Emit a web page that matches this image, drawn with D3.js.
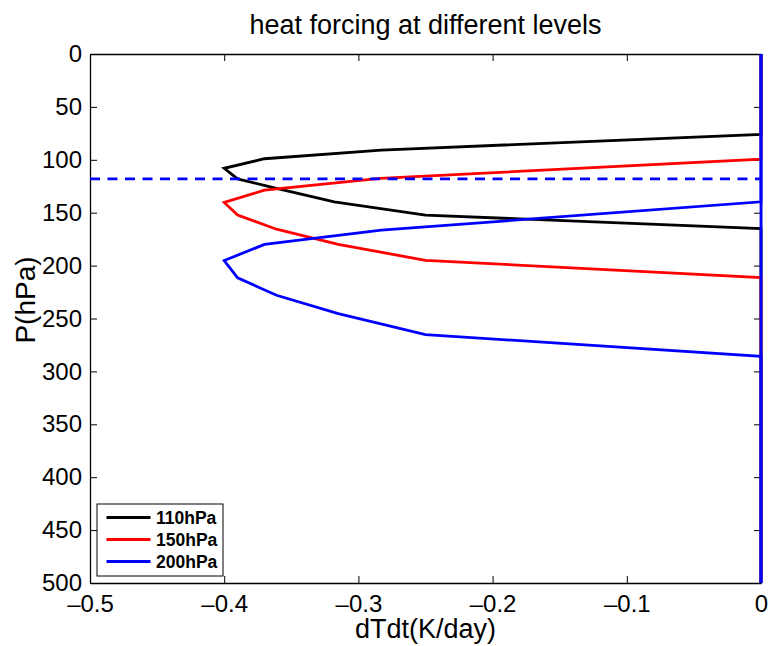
<!DOCTYPE html>
<html>
<head>
<meta charset="utf-8">
<script src="https://cdn.jsdelivr.net/npm/d3@7"></script>
<style>
    body { margin: 0; background: #fff; }
    text { font-family: "Liberation Sans", Arial, sans-serif; }
</style>
</head>
<body>
<div id="chart"></div>
<script>
// heating profiles (pressure in hPa, dTdt in K/day)
const pres110 = [0, 76, 90.8, 99, 108, 118, 127, 139.7, 152.3, 165, 500];
const val110 = [0, 0, -0.283, -0.370, -0.400, -0.390, -0.361, -0.318, -0.250, 0, 0];
const pres150 = [0, 99.3, 117.6, 128.7, 140.3, 152.3, 165.6, 180, 195, 211.3, 500];
const val150 = [0, 0, -0.284, -0.370, -0.400, -0.390, -0.361, -0.315, -0.250, 0, 0];
const pres200 = [0, 139.7, 166.5, 180, 195.2, 211.6, 228, 245.3, 265.2, 285.7, 500];
const val200 = [0, 0, -0.283, -0.370, -0.400, -0.390, -0.361, -0.315, -0.250, 0, 0];

const seriesNames = ["110hPa", "150hPa", "200hPa"];
const seriesColors = ["#000000", "#ff0000", "#0000ff"];
const refLevel = 118;
const zeroLine = 0;

const xTicks = [-0.5, -0.4, -0.3, -0.2, -0.1, 0];
const yTicks = [0, 50, 100, 150, 200, 250, 300, 350, 400, 450, 500];

const width = 771;
const height = 646;
const mLeft = 90, mRight = 761, mTop = 54, mBottom = 583;

const svg = d3.select("#chart")
    .append("svg")
    .attr("width", width)
    .attr("height", height);

const xScale = d3.scaleLinear().domain([-0.5, 0]).range([mLeft, mRight]);
const yScale = d3.scaleLinear().domain([0, 500]).range([mTop, mBottom]);

// axes (MATLAB style: ticks inside, box on)
const tickLen = 7;
svg.append("g")
    .attr("class", "axis")
    .attr("transform", `translate(0, ${mBottom})`)
    .call(d3.axisBottom(xScale).tickValues(xTicks).tickSizeInner(-tickLen).tickSizeOuter(0).tickPadding(12)
        .tickFormat(d => d === 0 ? "0" : d3.format(".1f")(d).replace("-", "\u2013").replace("\u2212", "\u2013")));
svg.append("g")
    .attr("class", "axis")
    .attr("transform", `translate(0, ${mTop})`)
    .call(d3.axisTop(xScale).tickValues(xTicks).tickSizeInner(-tickLen).tickSizeOuter(0).tickFormat(""));
svg.append("g")
    .attr("class", "axis")
    .attr("transform", `translate(${mLeft}, 0)`)
    .call(d3.axisLeft(yScale).tickValues(yTicks).tickSizeInner(-tickLen).tickSizeOuter(0).tickPadding(8));
svg.append("g")
    .attr("class", "axis")
    .attr("transform", `translate(${mRight}, 0)`)
    .call(d3.axisRight(yScale).tickValues(yTicks).tickSizeInner(-tickLen).tickSizeOuter(0).tickFormat(""));

svg.selectAll(".axis path").attr("stroke", "#000").attr("stroke-width", 1.3);
svg.selectAll(".axis line").attr("stroke", "#000").attr("stroke-width", 1);
svg.selectAll(".axis text")
    .attr("font-size", "24px")
    .attr("fill", "#000")
    .attr("font-family", "Liberation Sans, Arial, sans-serif");

// profiles
const line = d3.line()
    .x(d => xScale(d[1]))
    .y(d => yScale(d[0]));

const profiles = [
    d3.zip(pres110, val110),
    d3.zip(pres150, val150),
    d3.zip(pres200, val200)
];

for (let i = 0; i < profiles.length; i++) {
    svg.append("path")
        .attr("d", line(profiles[i]))
        .attr("fill", "none")
        .attr("stroke", seriesColors[i])
        .attr("stroke-width", 2.8)
        .attr("stroke-linejoin", "miter");
}

// reference level and zero line
svg.append("line")
    .attr("x1", xScale(-0.5))
    .attr("x2", xScale(0))
    .attr("y1", yScale(refLevel))
    .attr("y2", yScale(refLevel))
    .attr("stroke", "#0000ff")
    .attr("stroke-width", 2.8)
    .attr("stroke-dasharray", "10,7.5");

svg.append("line")
    .attr("x1", xScale(zeroLine))
    .attr("x2", xScale(zeroLine))
    .attr("y1", yScale(0))
    .attr("y2", yScale(500))
    .attr("stroke", "#0000ff")
    .attr("stroke-width", 2.8);

// title and axis titles
svg.append("text")
    .attr("x", (mLeft + mRight) / 2)
    .attr("y", 34)
    .attr("text-anchor", "middle")
    .attr("font-size", "27px")
    .text("heat forcing at different levels");

svg.append("text")
    .attr("x", (mLeft + mRight) / 2)
    .attr("y", 638)
    .attr("text-anchor", "middle")
    .attr("font-size", "27px")
    .text("dTdt(K/day)");

svg.append("text")
    .attr("transform", `translate(35, 300) rotate(-90)`)
    .attr("text-anchor", "middle")
    .attr("font-size", "28px")
    .text("P(hPa)");

// legend
const legend = svg.append("g").attr("transform", "translate(97, 504)");
legend.append("rect")
    .attr("width", 126)
    .attr("height", 72)
    .attr("fill", "#fff")
    .attr("stroke", "#000")
    .attr("stroke-width", 1);

for (let i = 0; i < seriesNames.length; i++) {
    const y = 13.5 + i * 22;
    legend.append("line")
        .attr("x1", 9.5)
        .attr("x2", 53.5)
        .attr("y1", y)
        .attr("y2", y)
        .attr("stroke", seriesColors[i])
        .attr("stroke-width", 2.8);
    legend.append("text")
        .attr("x", 59)
        .attr("y", y)
        .attr("dy", "0.36em")
        .attr("font-size", "17.5px")
        .attr("font-weight", "bold")
        .text(seriesNames[i]);
}
</script>
</body>
</html>
